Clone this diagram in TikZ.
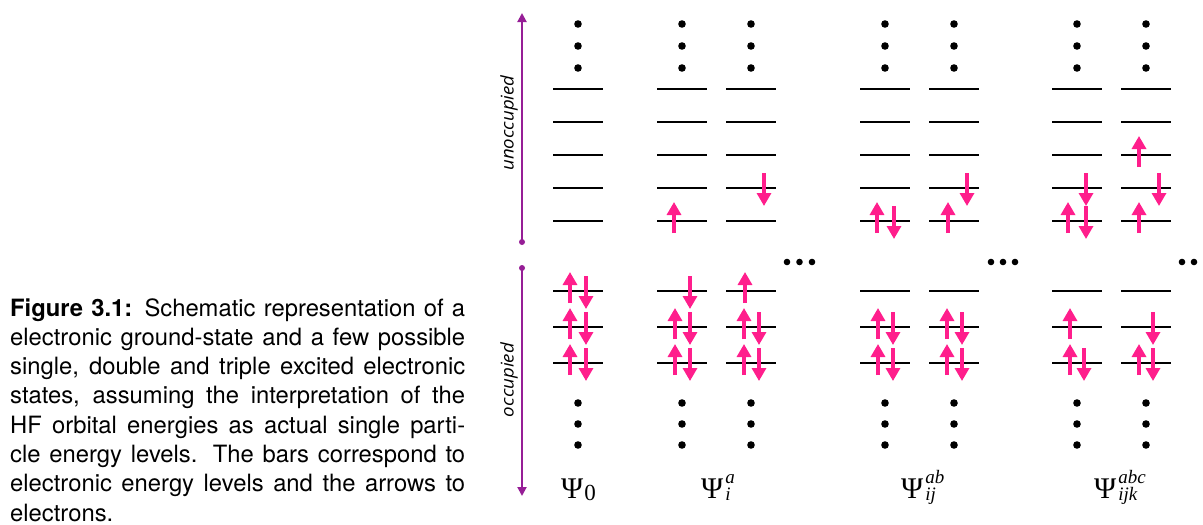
\documentclass[tikz,border=0pt]{standalone}
\usepackage{fontspec}
\usetikzlibrary{arrows.meta}
\newfontfamily\capfont{TeX Gyre Heros}
\newfontfamily\lserif{Liberation Serif}
\newfontfamily\labfont{Open Sans}
\definecolor{elec}{RGB}{255,30,140}
\definecolor{purp}{RGB}{150,30,150}
\newcommand\elup[2]{\draw[espin] (#1,#2+12) -- (#1,#2-19);}
\newcommand\eldn[2]{\draw[espin] (#1,#2-15) -- (#1,#2+18);}
\newcommand\scr{\fontsize{19}{19}\selectfont\itshape}
\newcommand\psilab[2]{\lserif\fontsize{30}{30}\selectfont Ψ\kern2pt\rlap{\raisebox{-2pt}{\scr #2}}\raisebox{15pt}{\scr #1}}
\newcommand\vtext[2]{\resizebox{#1}{\height}{\labfont\itshape\fontsize{17.5}{17.5}\selectfont #2}}
\begin{document}
\begin{tikzpicture}[x=1pt,y=-1pt,
  bar/.style={line width=1.8pt},
  espin/.style={elec,line width=3.2pt,-{Triangle[width=14pt,length=13pt]}},
  axis/.style={purp,line width=2pt,-{Triangle[width=9pt,length=9pt]}},
  vlab/.style={rotate=90,inner sep=0pt},
  psil/.style={anchor=base west,inner sep=0pt}]
\useasboundingbox (0,0) rectangle (1203,525);

% caption
\node[anchor=base west,inner sep=0pt] (cap) at (10,316) {\parbox[t]{455pt}{\capfont\fontsize{23.8}{29.3}\selectfont
\textbf{Figure 3.1:} Schematic representation of a\linebreak
electronic ground-state and a few possible\linebreak
single, double and triple excited electronic\linebreak
states, assuming the interpretation of the\linebreak
HF orbital energies as actual single parti-\linebreak
cle energy levels. The bars correspond to\linebreak
electronic energy levels and the arrows to\linebreak
electrons.}};

% purple axes
\coordinate (ub) at (522,242);
\coordinate (ut) at (522,13);
\coordinate (ob) at (522,268);
\coordinate (ot) at (522,496);
\fill[purp] (ub) circle (3pt);
\fill[purp] (ob) circle (3pt);
\draw[axis] (ub) -- (ut);
\draw[axis] (ob) -- (ot);
\node[vlab] (unocc) at (509,123) {\vtext{95pt}{unoccupied}};
\node[vlab] (occ) at (509,380) {\vtext{74pt}{occupied}};

% levels and dots
\foreach \c in {553,657,726,860,929,1052,1121} {
  \foreach \y in {89,122,155,188,221,291,327,363}
    \draw[bar] (\c,\y) -- ++(50,0);
  \foreach \y in {24,46,68,403,424,445}
    \fill (\c+25,\y) circle (3.8pt);
}
% continuation dots
\foreach \x in {787,799.5,812,991,1003,1015,1182,1194}
  \fill (\x,262) circle (3.3pt);

% electrons: column 1
\foreach \y in {291,327,363} {\elup{570}{\y}\eldn{586}{\y}}
% column 2
\elup{674}{221}
\eldn{690}{291}
\foreach \y in {327,363} {\elup{675}{\y}\eldn{690}{\y}}
% column 3
\eldn{764}{188}
\elup{745}{291}
\foreach \y in {327,363} {\elup{744}{\y}\eldn{759}{\y}}
% column 4
\elup{877}{221}\eldn{894}{221}
\foreach \y in {327,363} {\elup{878}{\y}\eldn{893}{\y}}
% column 5
\elup{948}{221}
\eldn{967}{188}
\foreach \y in {327,363} {\elup{947}{\y}\eldn{962}{\y}}
% column 6
\eldn{1086}{188}
\elup{1068}{221}\eldn{1086}{221}
\elup{1070}{327}
\elup{1070}{363}\eldn{1084}{363}
% column 7
\elup{1139}{155}
\eldn{1159}{188}
\elup{1139}{221}
\eldn{1153}{327}
\elup{1139}{363}\eldn{1153}{363}

% state labels
\node[psil] (p0) at (561,498) {\lserif\fontsize{30}{30}\selectfont Ψ\kern1pt\raisebox{-2pt}{\fontsize{23}{23}\selectfont 0}};
\node[psil] (p1) at (701,498) {\psilab{a}{i}};
\node[psil] (p2) at (901,498) {\psilab{ab}{ij}};
\node[psil] (p3) at (1094,498) {\psilab{abc}{ijk}};
\end{tikzpicture}
\end{document}
